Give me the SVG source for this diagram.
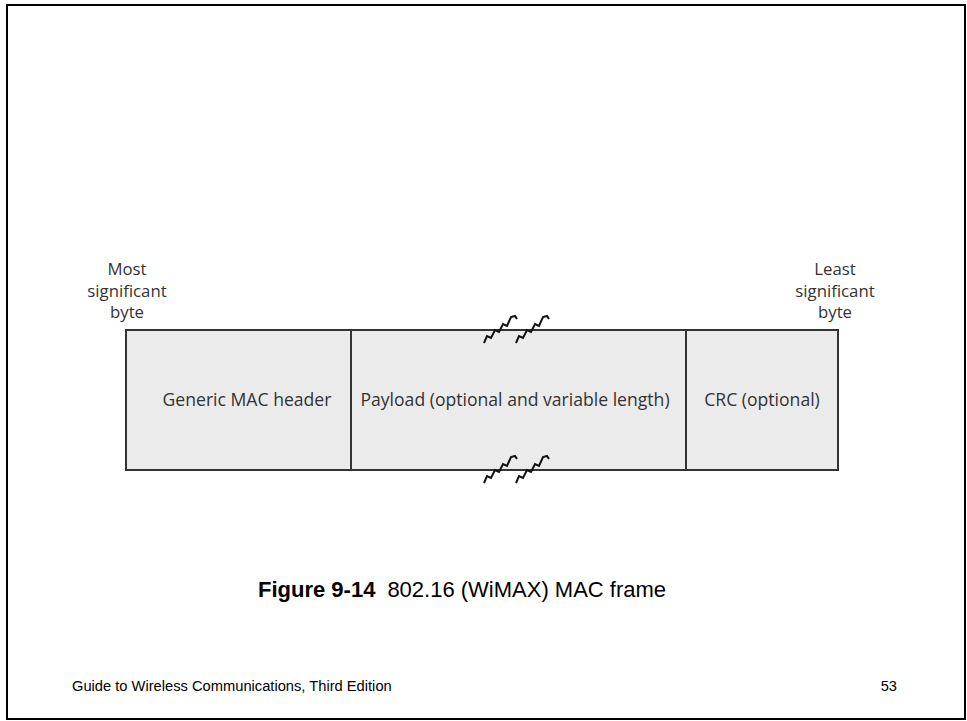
<svg xmlns="http://www.w3.org/2000/svg" width="967" height="721" viewBox="0 0 967 721">
<style>
.lbl{font-family:"Open Sans","DejaVu Sans",sans-serif;font-size:17.6px;fill:#333;text-anchor:middle;}
.side{font-family:"Open Sans","DejaVu Sans",sans-serif;font-size:16.8px;fill:#333;text-anchor:middle;}
.cell{fill:#ebebeb;stroke:#333;stroke-width:2;}
.zz{fill:none;stroke:#111;stroke-width:2;stroke-linejoin:miter;}
.cap{font-family:"Liberation Sans",Arial,sans-serif;font-size:22px;fill:#000;}
.foot{font-family:"Liberation Sans",Arial,sans-serif;font-size:14.7px;fill:#000;}
</style>
<defs>
<path id="zig" d="M0,29 L3,22 L7,24 L11,16 L15,18 L19,10 L23,12 L27,3 L31,2 L33,5"/>
</defs>
<rect x="0" y="0" width="967" height="721" fill="#fff"/>
<rect x="7" y="5" width="958" height="714" fill="none" stroke="#000" stroke-width="2"/>
<g id="msb">
<text class="side" x="127" y="275">Most</text>
<text class="side" x="127" y="297">significant</text>
<text class="side" x="127" y="318">byte</text>
</g>
<g id="lsb">
<text class="side" x="835" y="275">Least</text>
<text class="side" x="835" y="297">significant</text>
<text class="side" x="835" y="318">byte</text>
</g>
<g id="header">
<rect class="cell" x="126" y="330" width="225" height="140"/>
<text class="lbl" x="247" y="406">Generic MAC header</text>
</g>
<g id="payload">
<rect class="cell" x="351" y="330" width="335" height="140"/>
<text class="lbl" x="515" y="406">Payload (optional and variable length)</text>
</g>
<g id="crc">
<rect class="cell" x="686" y="330" width="152" height="140"/>
<text class="lbl" x="762" y="406">CRC (optional)</text>
</g>
<g id="connectors">
<use href="#zig" class="zz" x="484" y="314"/>
<use href="#zig" class="zz" x="516" y="314"/>
<use href="#zig" class="zz" x="484" y="454"/>
<use href="#zig" class="zz" x="516" y="454"/>
</g>
<text class="cap" x="258" y="597"><tspan font-weight="bold">Figure 9-14</tspan><tspan dx="12">802.16 (WiMAX) MAC frame</tspan></text>
<text class="foot" x="72" y="691">Guide to Wireless Communications, Third Edition</text>
<text class="foot" x="897" y="691" text-anchor="end">53</text>
</svg>
